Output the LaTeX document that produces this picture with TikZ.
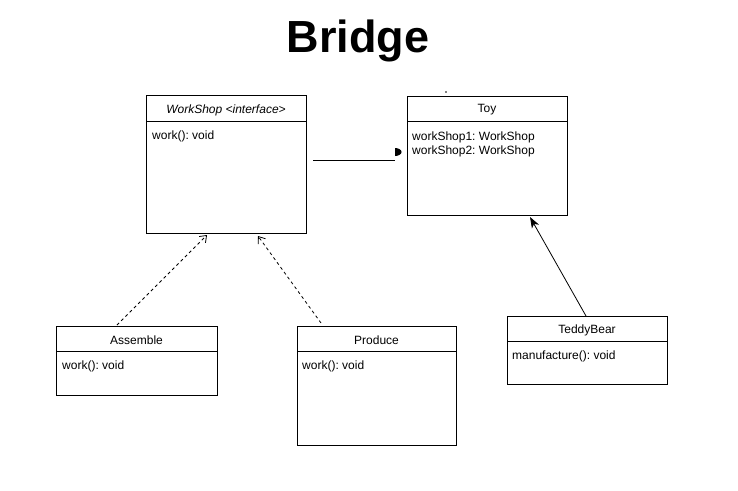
\documentclass[tikz,border=0pt]{standalone}
\usepackage{fontspec}
\setmainfont{Liberation Sans}
\usetikzlibrary{arrows.meta}
\frenchspacing
\begin{document}
\begin{tikzpicture}[x=1pt,y=-1pt,
  box/.style={draw, line width=1pt, fill=white, inner sep=0pt, anchor=north west},
  divider/.style={line width=1pt},
  hdr/.style={font=\fontsize{12}{14}\selectfont, inner sep=0pt},
  body/.style={font=\fontsize{12}{14}\selectfont, inner sep=0pt, anchor=west, align=left},
  conn/.style={line width=0.8pt},
  realize/.style={conn, dashed, dash pattern=on 3pt off 3pt, -{Straight Barb[length=6pt,width=9pt]}},
  assoc/.style={conn, -{Stealth[length=11pt,width=8pt,inset=3pt]}},
  ownend/.style={conn}
]
\useasboundingbox (0,0) rectangle (738,490);

\node[font=\fontsize{45}{50}\bfseries\selectfont, inner sep=0pt] (title) at (358,41) {Bridge};

% WorkShop
\node[box, minimum width=160pt, minimum height=138pt] (ws) at (146,95) {};
\draw[divider] ([yshift=-26pt]ws.north west) -- ([yshift=-26pt]ws.north east);
\node[hdr, font=\fontsize{12}{14}\itshape\selectfont] (wsh) at (226,110) {WorkShop <interface>};
\node[body] (wsb) at (152,136) {work(): void};

% Toy
\node[box, minimum width=160pt, minimum height=119pt] (toy) at (407,96) {};
\draw[divider] ([yshift=-25pt]toy.north west) -- ([yshift=-25pt]toy.north east);
\node[hdr] (toyh) at (487,110) {Toy};
\node[body] (toyb) at (412,144) {workShop1: WorkShop\\workShop2: WorkShop};
\fill (446,92) circle (0.9pt);

% Assemble
\node[box, minimum width=161pt, minimum height=69pt] (as) at (56,326) {};
\draw[divider] ([yshift=-25pt]as.north west) -- ([yshift=-25pt]as.north east);
\node[hdr] (ash) at (136.5,340) {Assemble};
\node[body] (asb) at (62,366) {work(): void};

% Produce
\node[box, minimum width=159pt, minimum height=119pt] (pr) at (297,326) {};
\draw[divider] ([yshift=-25pt]pr.north west) -- ([yshift=-25pt]pr.north east);
\node[hdr] (prh) at (376.5,340) {Produce};
\node[body] (prb) at (302,366) {work(): void};

% TeddyBear
\node[box, minimum width=160pt, minimum height=68pt] (tb) at (507,316) {};
\draw[divider] ([yshift=-25pt]tb.north west) -- ([yshift=-25pt]tb.north east);
\node[hdr] (tbh) at (587,330) {TeddyBear};
\node[body] (tbb) at (512,356) {manufacture(): void};

% connectors
\coordinate (a1) at (117,325);
\coordinate (a2) at (207,235);
\draw[realize] (a1) -- (a2);
\coordinate (p1) at (321,323);
\coordinate (p2) at (258,236);
\draw[realize] (p1) -- (p2);
\coordinate (t1) at (586,316);
\coordinate (t2) at (530,217);
\draw[assoc] (t1) -- (t2);
\coordinate (w1) at (313,160);
\coordinate (w2) at (395,160);
\draw[ownend] (w1) -- (w2);
\fill ([yshift=4pt]w2) arc[start angle=-90, end angle=90, x radius=6.5pt, y radius=4pt] -- cycle;
\end{tikzpicture}
\end{document}
